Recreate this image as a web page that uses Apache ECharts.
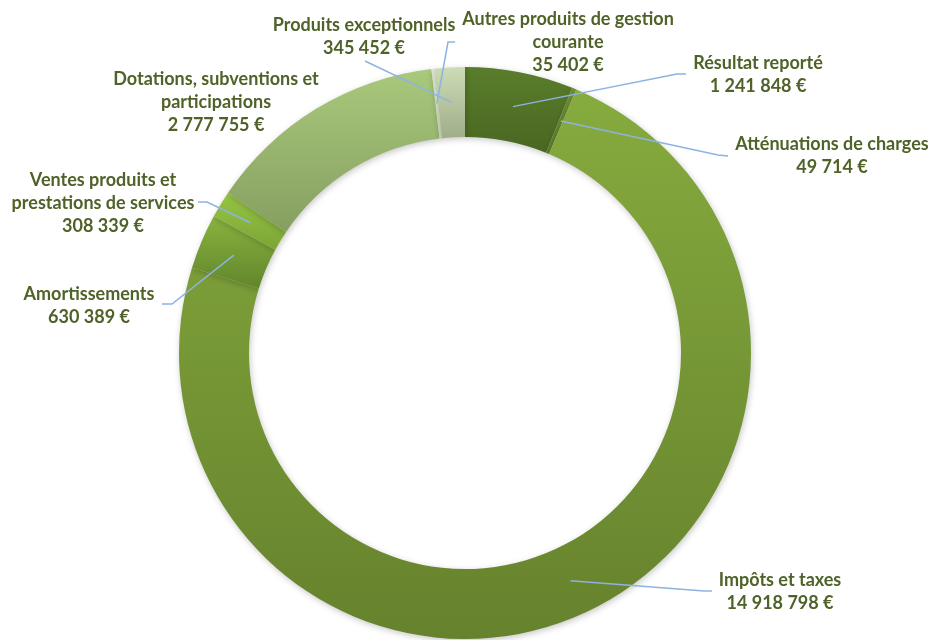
<!DOCTYPE html>
<html>
<head>
<meta charset="utf-8">
<script src="https://cdn.jsdelivr.net/npm/echarts@6/dist/echarts.min.js"></script>
<style>
  html, body { margin: 0; padding: 0; background: #fff; }
  #chart { width: 933px; height: 640px; }
</style>
</head>
<body>
<div id="chart"></div>
<script>
// Data
const categories = [
  'Résultat reporté',
  'Atténuations de charges',
  'Impôts et taxes',
  'Amortissements',
  'Ventes produits et\nprestations de services',
  'Dotations, subventions et\nparticipations',
  'Autres produits de gestion\ncourante',
  'Produits exceptionnels'
];
const values = [1241848, 49714, 14918798, 630389, 308339, 2777755, 35402, 345452];

// Styles (gradient top -> bottom per slice)
const colorsTop = ['#5a7d2c', '#6b9035', '#86ab3e', '#88b33f', '#96c544', '#a9c97c', '#e0eAd3', '#ccdcb6'];
const colorsBottom = ['#4a6721', '#5a7a2a', '#66822d', '#62862b', '#7ba535', '#869f60', '#c6d4b4', '#9fae89'];

// Label layout (pixel positions of label centres and leader line ends)
const labelCenters = [[758, 75], [832, 156], [780, 592], [89, 306], [103, 203], [216, 102], [568, 42], [364, 37]];
const leaderEnds = [
  [[677, 74], [686, 74]],
  [[718, 155], [728, 156]],
  [[704, 591], [712, 591]],
  [[172, 304], [162, 304]],
  [[207, 202], [198, 202]],
  null,
  [[448, 42], [455, 42]],
  [[365, 61], [365, 61]]
];

function fmt(v) {
  return String(v).replace(/\B(?=(\d{3})+(?!\d))/g, ' ') + ' €';
}

const chart = echarts.init(document.getElementById('chart'), null, { renderer: 'canvas' });

const ringData = categories.map((name, i) => ({
  name: name,
  value: values[i],
  itemStyle: {
    color: new echarts.graphic.LinearGradient(0, 0, 0, 1, [
      { offset: 0, color: colorsTop[i] },
      { offset: 1, color: colorsBottom[i] }
    ])
  }
}));

const labelData = categories.map((name, i) => ({
  name: name,
  value: values[i],
  labelLine: { show: leaderEnds[i] !== null }
}));

const common = {
  type: 'pie',
  center: [465, 353],
  radius: [216, 286],
  startAngle: 90,
  clockwise: true,
  avoidLabelOverlap: false,
  emphasis: { disabled: true },
  silent: true
};

chart.setOption({
  animation: false,
  backgroundColor: '#ffffff',
  series: [
    Object.assign({}, common, {
      z: 2,
      itemStyle: {
        borderWidth: 0,
        shadowBlur: 6,
        shadowColor: 'rgba(0,0,0,0.22)',
        shadowOffsetX: 1,
        shadowOffsetY: 2
      },
      label: { show: false },
      labelLine: { show: false },
      data: ringData
    }),
    Object.assign({}, common, {
      z: 5,
      itemStyle: { color: 'rgba(0,0,0,0)', borderWidth: 0 },
      label: {
        show: true,
        position: 'outside',
        formatter: p => p.name + '\n' + fmt(p.value),
        color: '#4f6228',
        fontFamily: 'Lato',
        fontWeight: 'bold',
        fontSize: 18,
        lineHeight: 23,
        align: 'center'
      },
      labelLine: {
        show: true,
        showAbove: true,
        lineStyle: { color: '#8db3e2', width: 1.5 }
      },
      labelLayout: function (params) {
        const i = params.dataIndex;
        const c = labelCenters[i];
        const res = { x: c[0], y: c[1], align: 'center', verticalAlign: 'middle', hideOverlap: false, moveOverlap: false };
        const g = leaderEnds[i];
        if (g) {
          const lay = chart.getModel().getSeriesByIndex(params.seriesIndex).getData().getItemLayout(i);
          const a = (lay.startAngle + lay.endAngle) / 2;
          const rm = (lay.r + lay.r0) / 2;
          res.labelLinePoints = [
            [lay.cx + rm * Math.cos(a), lay.cy + rm * Math.sin(a)],
            g[0],
            g[1]
          ];
        }
        return res;
      },
      data: labelData
    })
  ]
});
</script>
</body>
</html>
